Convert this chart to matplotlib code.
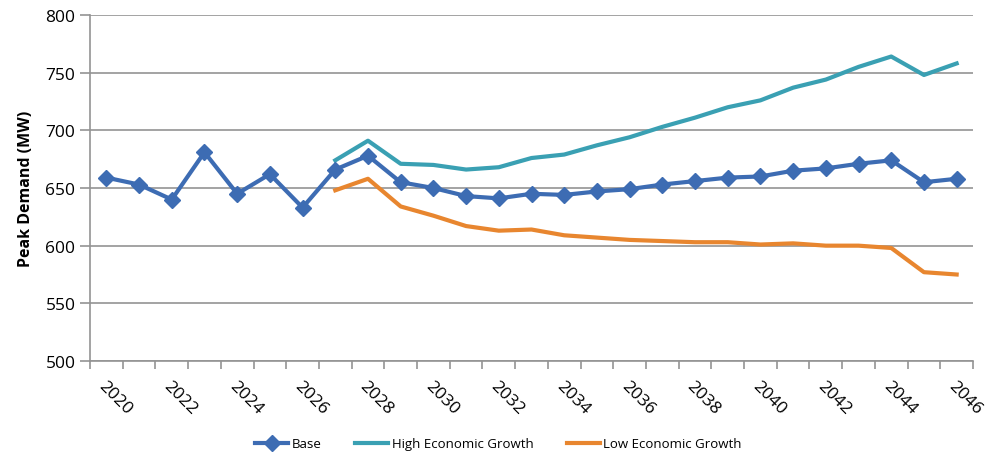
import numpy as np
import matplotlib.pyplot as plt

plt.rcParams['font.family'] = ['Open Sans', 'DejaVu Sans']

years = list(range(2020, 2047))
base = [659, 653, 640, 681, 645, 662, 633, 666, 678, 655, 650, 643, 641, 645, 644,
        647, 649, 653, 656, 659, 660, 665, 667, 671, 674, 655, 658]
high_years = list(range(2027, 2047))
high = [674, 691, 671, 670, 666, 668, 676, 679, 687, 694, 703, 711, 720, 726, 737,
        744, 755, 764, 748, 758]
low = [648, 658, 634, 626, 617, 613, 614, 609, 607, 605, 604, 603, 603, 601, 602,
       600, 600, 598, 577, 575]

c_base = '#3D6CB3'
c_high = '#3AA0B3'
c_low = '#E8862F'
c_axis = '#939393'

fig = plt.figure(figsize=(9.97, 4.56), dpi=100)
ax = fig.add_axes([90 / 997, 1 - 362 / 456, 883 / 997, 346 / 456])

x = np.arange(len(years))
xh = np.array([years.index(y) for y in high_years])

ax.plot(x, base, color=c_base, lw=3, marker='D', ms=8, label='Base', zorder=4)
ax.plot(xh, high, color=c_high, lw=3, label='High Economic Growth', zorder=3)
ax.plot(xh, low, color=c_low, lw=3, label='Low Economic Growth', zorder=3)

ax.set_xlim(-0.5, len(years) - 0.5)
ax.set_ylim(500, 800)
ax.set_yticks(range(500, 801, 50))
ax.yaxis.grid(True, color=c_axis, lw=1.2)
ax.set_axisbelow(True)

# category axis: ticks between categories, labels every other year
ax.set_xticks(np.arange(-0.5, len(years), 1), minor=True)
ax.set_xticks(x[::2])
ax.set_xticklabels([str(y) for y in years[::2]], rotation=-45, ha='left',
                   va='top', rotation_mode='anchor', fontsize=12.5)
ax.tick_params(axis='x', which='major', length=0, pad=12)
ax.tick_params(axis='x', which='minor', length=6, color=c_axis, width=1.2)
ax.tick_params(axis='y', length=7, color=c_axis, width=1.2, labelsize=12.5)

for s in ['top', 'right']:
    ax.spines[s].set_visible(False)
for s in ['left', 'bottom']:
    ax.spines[s].set_color(c_axis)
    ax.spines[s].set_linewidth(1.2)

ax.set_ylabel('Peak Demand (MW)', fontsize=11.5, fontweight='bold', labelpad=8)

fig.legend(loc='center', bbox_to_anchor=(0.5, 1 - 445 / 456), ncol=3,
           frameon=False, fontsize=9.5, handlelength=2.5, columnspacing=2.5,
           handletextpad=0.3)

fig.savefig('out.png', dpi=100)
